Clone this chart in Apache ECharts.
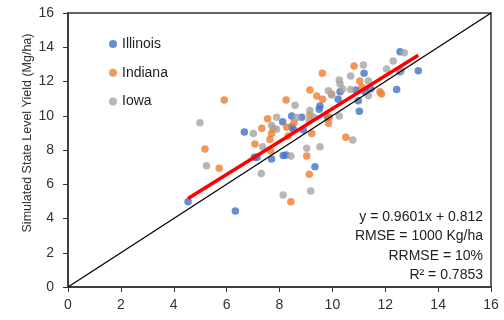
<!DOCTYPE html>
<html><head><meta charset="utf-8">
<script src="https://cdn.jsdelivr.net/npm/echarts@6/dist/echarts.min.js"></script>
<style>html,body{margin:0;padding:0;background:#fff}#c{width:504px;height:320px}</style>
</head><body><div id="c"></div>
<script>
// ---- data ----
const axisTicks = [0, 2, 4, 6, 8, 10, 12, 14, 16];
const illinoisX = [4.54, 6.33, 6.67, 7.05, 7.15, 7.70, 8.14, 8.25, 9.34, 8.12, 8.46, 8.84, 8.46, 8.52, 8.90, 9.53, 9.50, 9.82, 10.29, 10.22, 11.02, 10.98, 11.20, 10.89, 11.23, 11.45, 12.43, 12.56, 13.25, 12.56];
const illinoisY = [4.98, 4.44, 9.05, 7.57, 7.57, 7.47, 7.68, 7.71, 7.02, 9.65, 9.99, 9.91, 9.36, 9.21, 9.17, 10.57, 10.38, 9.91, 11.40, 10.96, 10.26, 10.88, 12.48, 11.50, 11.40, 11.58, 11.54, 13.74, 12.63, 12.57];
const indianaX = [5.91, 5.18, 5.72, 7.07, 7.33, 7.55, 7.70, 7.64, 7.67, 8.25, 8.55, 8.27, 8.33, 9.15, 9.41, 9.62, 9.63, 9.15, 9.22, 9.88, 9.85, 9.97, 10.51, 9.03, 9.13, 8.43, 10.82, 11.04, 11.11, 11.80, 11.86, 7.76];
const indianaY = [10.92, 8.06, 6.93, 8.35, 9.27, 9.83, 8.97, 8.61, 7.94, 10.92, 9.59, 9.33, 8.82, 11.50, 11.15, 12.48, 10.96, 10.04, 8.97, 9.91, 9.56, 11.27, 8.74, 7.65, 6.58, 4.98, 12.91, 12.03, 11.66, 11.40, 11.27, 9.27];
const iowaX = [4.99, 5.24, 7.01, 7.36, 7.31, 7.70, 7.89, 7.89, 8.43, 8.14, 8.59, 8.65, 9.03, 9.53, 9.18, 9.15, 9.13, 9.30, 9.85, 10.26, 10.26, 10.29, 10.39, 10.69, 10.69, 10.77, 11.17, 11.36, 11.36, 12.05, 12.30, 12.61, 12.72, 9.97];
const iowaY = [9.59, 7.08, 8.97, 8.19, 6.63, 9.44, 9.91, 9.21, 7.65, 5.37, 10.61, 9.90, 8.10, 8.19, 5.61, 10.30, 9.71, 9.91, 11.46, 9.99, 12.09, 11.85, 11.56, 12.32, 11.54, 8.58, 12.96, 12.03, 11.17, 12.73, 13.20, 12.63, 13.68, 11.21];
const fitSlope = 0.9601;
const fitIntercept = 0.812;
const fitRangeX = [4.54, 13.25];
const oneToOneX = [0, 16];
const statsLines = ['y = 0.9601x + 0.812', 'RMSE = 1000 Kg/ha', 'RRMSE = 10%', 'R\u00B2 = 0.7853'];
const yAxisTitle = 'Simulated State Level Yield (Mg/ha)';

// ---- chart ----
const zip = (xs, ys) => xs.map((x, i) => [x, ys[i]]);
const fitData = fitRangeX.map(x => [x, fitSlope * x + fitIntercept]);
const oneToOne = oneToOneX.map(x => [x, x]);
const font = 'Liberation Sans, Arial, sans-serif';
const chart = echarts.init(document.getElementById('c'), null, {renderer: 'canvas'});
const axisCommon = {
  min: axisTicks[0], max: axisTicks[axisTicks.length - 1], interval: axisTicks[1] - axisTicks[0],
  axisLine: {show: true, lineStyle: {color: '#333', width: 1.5}},
  axisTick: {show: true, inside: false, length: 5, lineStyle: {color: '#333', width: 1}},
  splitLine: {show: false},
  axisLabel: {color: '#333', fontSize: 14, fontFamily: font}
};
chart.setOption({
  animation: false,
  color: ['#4472C4', '#ED7D31', '#A5A5A5'],
  grid: {left: 68, right: 13, top: 13, bottom: 33, show: true, borderColor: '#333', borderWidth: 1.5, backgroundColor: 'transparent'},
  xAxis: Object.assign({type: 'value'}, axisCommon, {axisLabel: Object.assign({}, axisCommon.axisLabel, {margin: 11})}),
  yAxis: Object.assign({type: 'value'}, axisCommon, {axisLabel: Object.assign({}, axisCommon.axisLabel, {margin: 14})}),
  legend: {
    orient: 'vertical', left: 104, top: 31, icon: 'circle', itemWidth: 8, itemHeight: 8, itemGap: 12.7,
    textStyle: {fontSize: 14, lineHeight: 16, color: '#222', fontFamily: font},
    data: ['Illinois', 'Indiana', 'Iowa']
  },
  graphic: [
    {type: 'text', rotation: Math.PI / 2, x: 28, y: 133,
     style: {text: yAxisTitle, fontSize: 12.5, fontFamily: font, fill: '#333', textAlign: 'center', textVerticalAlign: 'middle'}},
    {type: 'text', right: 21, top: 207,
     style: {text: statsLines.join('\n'), fontSize: 14, lineHeight: 19.5, fontFamily: font, fill: '#222', textAlign: 'right'}}
  ],
  series: [
    {name: 'Illinois', type: 'scatter', symbolSize: 7.5, data: zip(illinoisX, illinoisY), z: 2},
    {name: 'Indiana', type: 'scatter', symbolSize: 7.5, data: zip(indianaX, indianaY), z: 2},
    {name: 'Iowa', type: 'scatter', symbolSize: 7.5, data: zip(iowaX, iowaY), z: 2},
    {name: 'fit', type: 'line', data: fitData, showSymbol: false, symbol: 'none', lineStyle: {color: '#FF0000', width: 3.5}, z: 4, silent: true},
    {name: '1:1', type: 'line', data: oneToOne, showSymbol: false, symbol: 'none', lineStyle: {color: '#000', width: 1.3}, z: 3, silent: true}
  ]
});
</script></body></html>
